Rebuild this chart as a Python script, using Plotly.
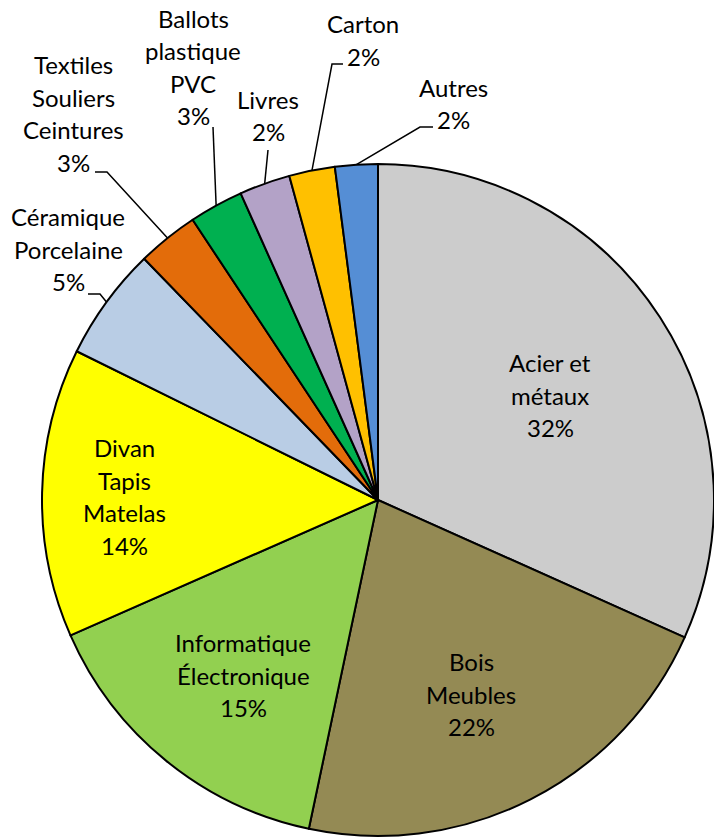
import math
import plotly.graph_objects as go

# Composition of collected bulky waste (share of total weight)
categories = [
    "Acier et\nmétaux",
    "Bois\nMeubles",
    "Informatique\nÉlectronique",
    "Divan\nTapis\nMatelas",
    "Céramique\nPorcelaine",
    "Textiles\nSouliers\nCeintures",
    "Ballots\nplastique\nPVC",
    "Livres",
    "Carton",
    "Autres",
]
shares = [31.7, 21.6, 15.1, 13.9, 5.45, 2.95, 2.6, 2.45, 2.2, 2.05]
colors = ["#CCCCCC", "#948A54", "#92D050", "#FFFF00", "#B9CDE5",
          "#E36C0A", "#00B050", "#B3A2C7", "#FFC000", "#558ED5"]

# Canvas and pie geometry in pixels
W, H = 714, 838
CX, CY, R = 378, 500, 336
FONT = dict(family="Lato, 'Open Sans', sans-serif", size=24, color="#000000")
LINE_GAP = 32.5

# Label block placement: centre x and baseline of the first line (pixels)
label_pos = [
    (550, 371), (471, 670), (243, 651), (125, 456), (68, 225),
    (73, 73), (193, 27), (268, 108), (363, 32), (453, 96),
]
# Leader lines for outside labels: points near the text, ending on the slice edge
leaders = {
    4: [(88, 294), (100, 294)],
    5: [(95, 172), (107, 172)],
    6: [(213, 127)],
    7: [(268, 150)],
    8: [(343, 64), (332, 64)],
    9: [(433, 127), (420, 127)],
}


def px(x):
    return x / W


def py(y):
    return 1 - y / H


fig = go.Figure(go.Pie(
    labels=[c.replace("\n", " ") for c in categories],
    values=shares,
    sort=False,
    direction="clockwise",
    rotation=0,
    marker=dict(colors=colors, line=dict(color="#000000", width=2)),
    textinfo="none",
    hoverinfo="label+percent",
    showlegend=False,
    domain=dict(x=[px(CX - R), px(CX + R)], y=[py(CY + R), py(CY - R)]),
))

total = sum(shares)
annotations = []
shapes = []
cum = 0.0
for i, (name, v) in enumerate(zip(categories, shares)):
    pct = int(math.floor(v / total * 100 + 0.5))
    lines = name.split("\n") + [f"{pct}%"]
    lx, ly = label_pos[i]
    for k, line in enumerate(lines):
        annotations.append(dict(
            x=px(lx), y=py(ly + k * LINE_GAP - 8.5), xref="paper", yref="paper",
            text=line, showarrow=False, xanchor="center", yanchor="middle",
            font=FONT,
        ))
    mid = (cum + v / 2) / total * 2 * math.pi
    cum += v
    if i in leaders:
        ex = CX + R * math.sin(mid)
        ey = CY - R * math.cos(mid)
        pts = leaders[i] + [(ex, ey)]
        path = "M " + " L ".join(f"{px(x):.5f},{py(y):.5f}" for x, y in pts)
        shapes.append(dict(type="path", path=path, xref="paper", yref="paper",
                           line=dict(color="#000000", width=1.5)))

fig.update_layout(
    width=W, height=H,
    margin=dict(l=0, r=0, t=0, b=0),
    paper_bgcolor="#FFFFFF",
    plot_bgcolor="#FFFFFF",
    annotations=annotations,
    shapes=shapes,
)

fig.write_html("out.html")
